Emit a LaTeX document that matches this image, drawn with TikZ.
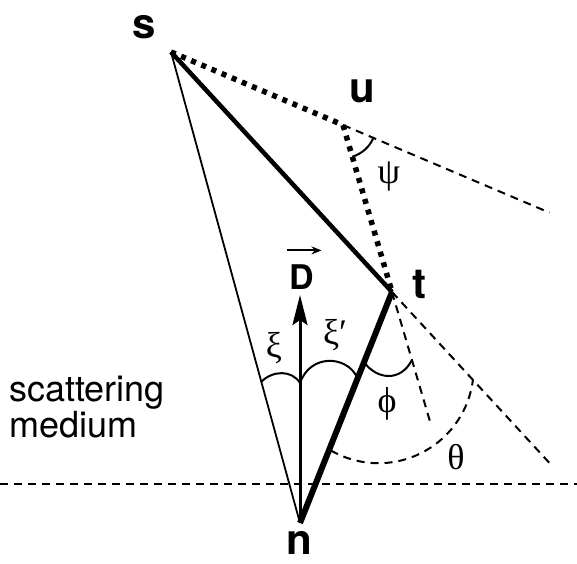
\documentclass[tikz,border=0pt]{standalone}
\usepackage{fontspec}
\setmainfont{TeX Gyre Heros}
\newfontfamily\grk{Liberation Serif}
\usetikzlibrary{arrows.meta,calc}
\tikzset{
  >={Stealth[length=30pt,width=15pt,inset=5pt]},
  vtx/.style ={font=\fontsize{42}{42}\selectfont\bfseries, inner sep=0pt},
  ang/.style ={font=\fontsize{36}{36}\selectfont\grk, inner sep=0pt},
  leg/.style ={line width=1.8pt},
  hvy/.style ={line width=4.5pt},
  hop/.style ={line width=5.5pt, dash pattern=on 5pt off 6pt},
  ray/.style ={line width=2pt, dash pattern=on 8pt off 6pt},
  arcl/.style={line width=2pt},
}

\begin{document}
\begin{tikzpicture}[x=1pt,y=1pt]
\useasboundingbox (0,0) rectangle (577,563);
% ---- scattering points ----------------------------------------------
\coordinate (s) at (171,511);
\coordinate (u) at (343,438);
\coordinate (t) at (392,271);
\coordinate (n) at (300,40);
\coordinate (Dtip) at (300,268);
\coordinate (mL) at (0,79);
\coordinate (mR) at (577,79);

% ---- labels ---------------------------------------------------------
\node[vtx] (slab) at (144,536) {s};
\node[vtx] (ulab) at (362,472) {u};
\node[vtx] (tlab) at (419,279) {t};
\node[vtx] (nlab) at (299,20)  {n};
\node[font=\fontsize{34}{34}\selectfont\bfseries, inner sep=0pt] (Dlab) at (302,286) {D};
\node[font=\fontsize{36}{33}\selectfont, align=left, anchor=base west,
      inner sep=0pt] (med) at (9,126) {scattering\\medium};

% ---- paths ----------------------------------------------------------
\draw[ray] (mL) -- (mR);
\draw[leg] (s) -- (n);
\draw[hvy] (s) -- (t);
\draw[hvy, line width=6pt] (t) -- (n);
\draw[hop] (s) -- (u) -- (t);
\draw[ray] (u) -- ($(s)!2.2!(u)$);
\draw[ray] (t) -- ($(u)!1.78!(t)$);
\draw[ray] (t) -- ($(s)!1.72!(t)$);
\draw[->, line width=3pt] (n) -- (Dtip);
\draw[line width=2pt, -{Stealth[length=10pt,width=8pt]}]
  ([xshift=-3pt,yshift=14pt]Dlab.north west) -- ([xshift=7pt,yshift=14pt]Dlab.north east);

% ---- angles ---------------------------------------------------------
\coordinate (thc) at (378.4,195.1);
\draw[ray] (thc) ++(240:95.3) arc[start angle=240, end angle=353, radius=95.3];
\draw[arcl] (u) ++(-73.6:33) arc[start angle=-73.6, end angle=-23, radius=33];
\draw[arcl] (364,201) .. controls (376,184) and (400,180) .. (412,203);
\draw[arcl] (261,181) .. controls (273,193) and (292,193) .. (300,180);
\draw[arcl] (300,180) .. controls (310,209) and (346,208) .. (357,186);

\node[ang] (psi) at (389,386) {ψ};
\node[ang] (phi) at (387,159) {ϕ};
\node[ang] (the) at (456,106) {θ};
\node[ang] (xi)  at (274,215) {ξ};
\node[ang] (xip) at (335,228) {ξ′};
\end{tikzpicture}
\end{document}
